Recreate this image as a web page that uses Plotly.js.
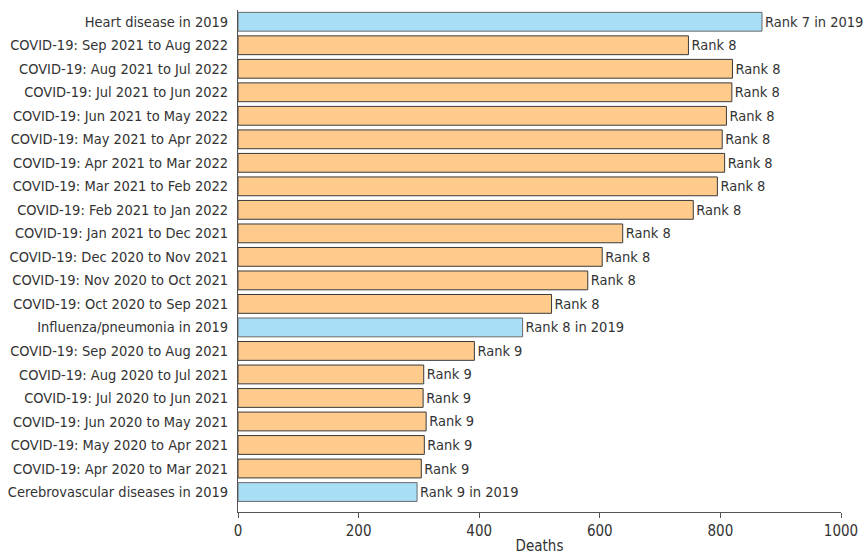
<!DOCTYPE html>
<html>
<head>
<meta charset="utf-8">
<script src="https://cdn.plot.ly/plotly-3.0.1.min.js"></script>
<style>html,body{margin:0;padding:0;background:#fff;}#chart{width:866px;height:555px;}</style>
</head>
<body>
<div id="chart"></div>
<script>
var categories = [
  "Heart disease in 2019",
  "COVID-19: Sep 2021 to Aug 2022",
  "COVID-19: Aug 2021 to Jul 2022",
  "COVID-19: Jul 2021 to Jun 2022",
  "COVID-19: Jun 2021 to May 2022",
  "COVID-19: May 2021 to Apr 2022",
  "COVID-19: Apr 2021 to Mar 2022",
  "COVID-19: Mar 2021 to Feb 2022",
  "COVID-19: Feb 2021 to Jan 2022",
  "COVID-19: Jan 2021 to Dec 2021",
  "COVID-19: Dec 2020 to Nov 2021",
  "COVID-19: Nov 2020 to Oct 2021",
  "COVID-19: Oct 2020 to Sep 2021",
  "Influenza/pneumonia in 2019",
  "COVID-19: Sep 2020 to Aug 2021",
  "COVID-19: Aug 2020 to Jul 2021",
  "COVID-19: Jul 2020 to Jun 2021",
  "COVID-19: Jun 2020 to May 2021",
  "COVID-19: May 2020 to Apr 2021",
  "COVID-19: Apr 2020 to Mar 2021",
  "Cerebrovascular diseases in 2019"
];
var deaths = [869, 747, 820, 819, 810, 803, 807, 795, 755, 638, 604, 580, 520, 472, 392, 308, 307, 312, 309, 304, 297];
var rankLabels = [
  "Rank 7 in 2019", "Rank 8", "Rank 8", "Rank 8", "Rank 8", "Rank 8", "Rank 8", "Rank 8", "Rank 8",
  "Rank 8", "Rank 8", "Rank 8", "Rank 8", "Rank 8 in 2019", "Rank 9", "Rank 9", "Rank 9", "Rank 9",
  "Rank 9", "Rank 9", "Rank 9 in 2019"
];
var xTicks = [0, 200, 400, 600, 800, 1000];

var FONT = "'DejaVu Sans Condensed', 'Roboto', sans-serif";
var isCovid = categories.map(function(c){ return c.indexOf("COVID") === 0; });
var fill = isCovid.map(function(c){ return c ? "#FECB8C" : "#A9DEF7"; });
var edge = isCovid.map(function(c){ return c ? "#3a3a3a" : "#6a6a6a"; });

var trace = {
  type: "bar",
  orientation: "h",
  y: categories,
  x: deaths,
  text: rankLabels,
  textposition: "outside",
  cliponaxis: false,
  textfont: {family: FONT, size: 14.5, color: "#333"},
  marker: {color: fill, line: {color: edge, width: 1}},
  hoverinfo: "x+y"
};

var layout = {
  width: 866, height: 555,
  margin: {l: 238, r: 25, t: 10, b: 43},
  paper_bgcolor: "#fff", plot_bgcolor: "#fff",
  bargap: 0.2,
  showlegend: false,
  font: {family: FONT, size: 14.5, color: "#333"},
  xaxis: {
    range: [0, 1000], autorange: false,
    tickvals: xTicks,
    ticks: "outside", ticklen: 5, tickcolor: "#555",
    showline: true, linecolor: "#555", linewidth: 1,
    showgrid: false, zeroline: false,
    tickfont: {family: FONT, size: 15, color: "#333"},
    title: {text: "Deaths", font: {family: FONT, size: 15, color: "#333"}, standoff: 5}
  },
  yaxis: {
    type: "category",
    range: [20.85, -0.5], autorange: false,
    showline: true, linecolor: "#555", linewidth: 1,
    showgrid: false, zeroline: false,
    ticks: "",
    ticklabelstandoff: 6,
    tickfont: {family: FONT, size: 14.5, color: "#333"}
  }
};

Plotly.newPlot("chart", [trace], layout, {displayModeBar: false, staticPlot: true});
</script>
</body>
</html>
